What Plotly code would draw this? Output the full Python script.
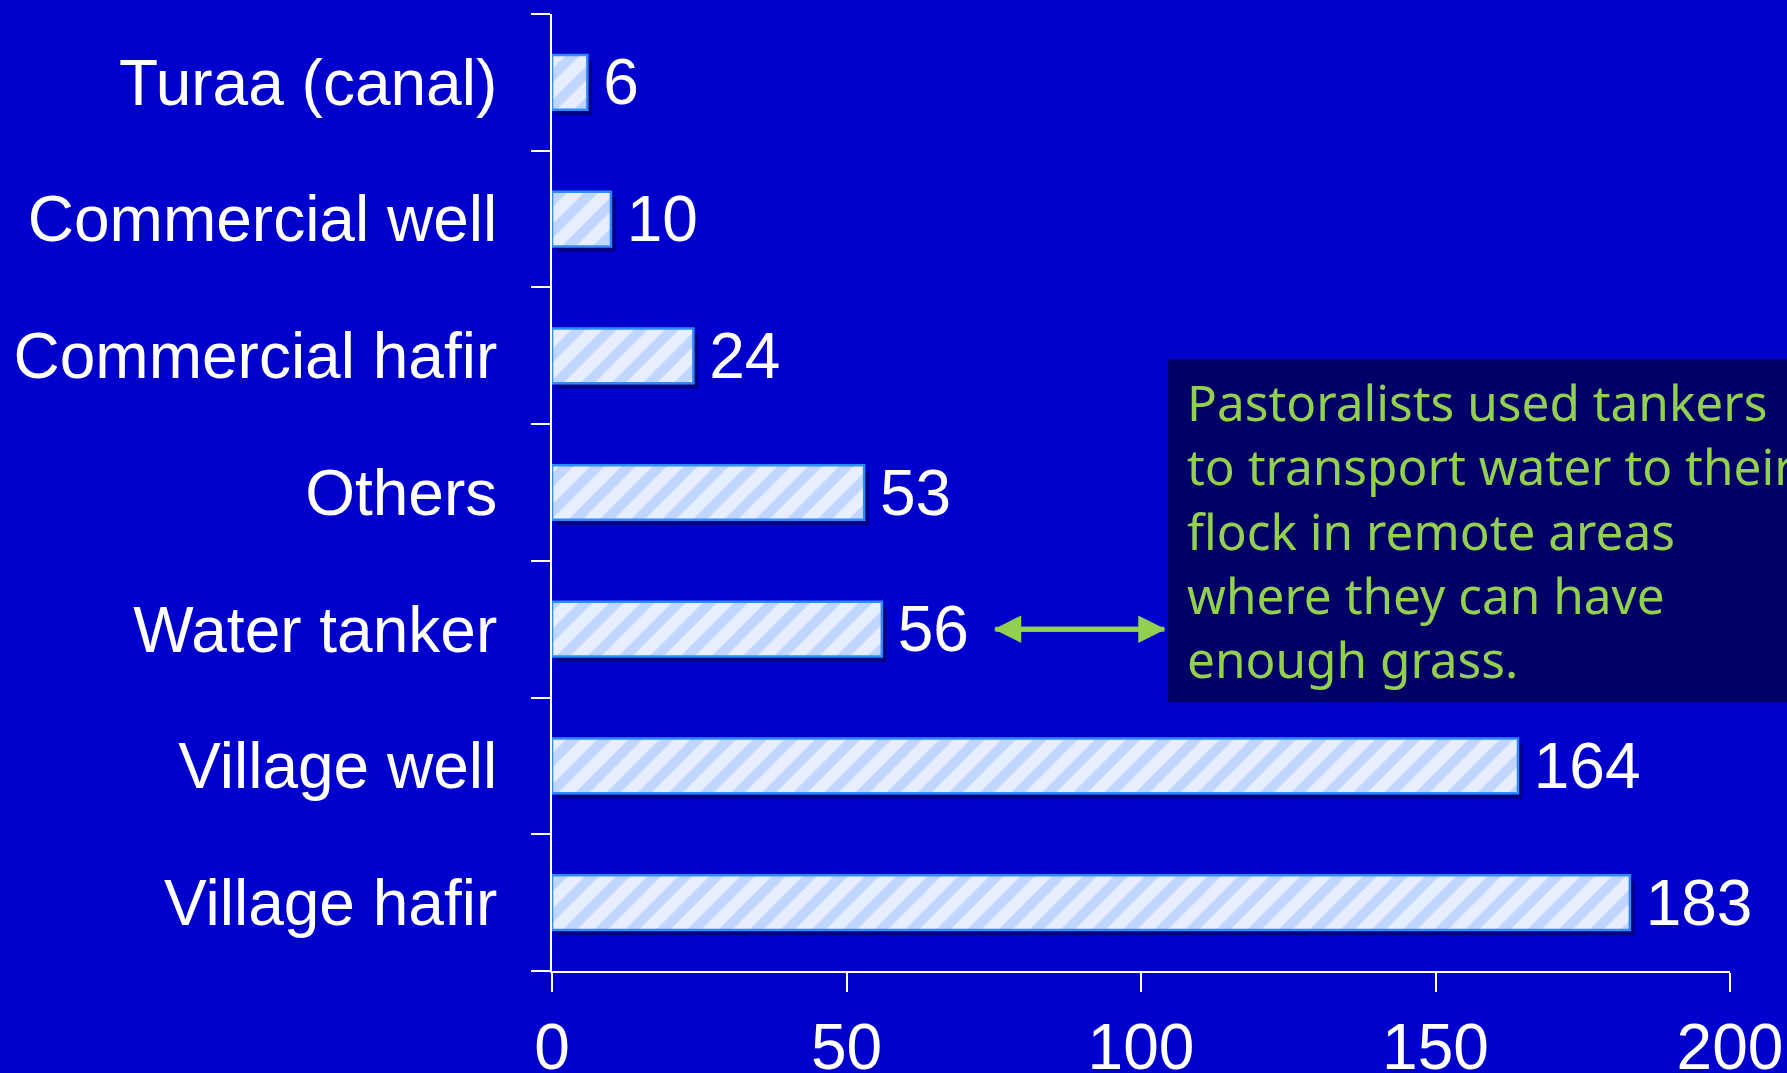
import plotly.graph_objects as go

# Water sources, listed bottom to top as they appear on the axis
categories = ["Village hafir", "Village well", "Water tanker", "Others",
              "Commercial hafir", "Commercial well", "Turaa (canal)"]
counts = [183, 164, 56, 53, 24, 10, 6]

x_ticks = [0, 50, 100, 150, 200]

note_lines = [
    "Pastoralists used tankers",
    "to transport water to their",
    "flock in remote areas",
    "where they can have",
    "enough grass.",
]

BG = "#0000CC"
GREEN = "#92D050"
BOX = "#000066"
LABEL_FONT = "Liberation Sans, Arial, sans-serif"

fig = go.Figure()

# soft drop shadow under each bar
fig.add_trace(go.Bar(
    y=categories, x=counts, orientation="h",
    base=0.8, width=0.4, offset=-0.24,
    marker=dict(color="rgba(0,0,70,0.55)", line=dict(width=0)),
    hoverinfo="skip", showlegend=False,
))

# hatched bars with their value labels
fig.add_trace(go.Bar(
    y=categories, x=counts, orientation="h",
    width=0.4,
    marker=dict(
        color="#E6EEFF",
        line=dict(color="#2E8BFF", width=2.5),
        pattern=dict(shape="/", fgcolor="#9ABDFF", bgcolor="#E6EEFF",
                     size=22, solidity=0.45),
    ),
    texttemplate="\u2009%{x}", textposition="outside", cliponaxis=False,
    constraintext="none",
    textfont=dict(family=LABEL_FONT, size=64, color="white"),
    showlegend=False,
))

# callout box with explanatory text
fig.add_shape(type="rect", xref="paper", yref="paper",
              x0=0.5229, x1=1.1, y0=0.2811, y1=0.6395,
              fillcolor=BOX, line=dict(width=0), layer="above")

fig.add_annotation(
    xref="paper", yref="paper", x=0.537, y=0.4600,
    xanchor="left", yanchor="middle", align="left",
    text="<br>".join(note_lines), showarrow=False,
    font=dict(family="Noto Sans, DejaVu Sans, sans-serif", size=49.5, color=GREEN),
)

# double-headed arrow pointing from the Water tanker bar to the note
for tail, head in ((75, 104.2), (104.2, 75)):
    fig.add_annotation(
        x=head, y="Water tanker", xref="x", yref="y",
        ax=tail, ay=0, axref="x", ayref="pixel",
        showarrow=True, arrowhead=2, arrowsize=1.1, arrowwidth=5,
        arrowcolor=GREEN, text="",
    )

fig.update_layout(
    width=1787, height=1073,
    paper_bgcolor=BG, plot_bgcolor=BG,
    margin=dict(l=552, r=57, t=14, b=102, autoexpand=False),
    barmode="overlay",
    showlegend=False,
    font=dict(family=LABEL_FONT, color="white", size=64),
)

fig.update_xaxes(
    range=[0, 200], tickvals=x_ticks, ticktext=[str(v) for v in x_ticks],
    showgrid=False, zeroline=False,
    showline=True, linecolor="white", linewidth=2,
    ticks="outside", ticklen=19, tickwidth=2, tickcolor="white",
    tickfont=dict(family=LABEL_FONT, size=64, color="white"),
    automargin=False, fixedrange=True,
)

fig.update_yaxes(
    categoryorder="array", categoryarray=categories,
    showgrid=False, zeroline=False,
    showline=True, linecolor="white", linewidth=2,
    ticks="outside", ticklen=19, tickwidth=2, tickcolor="white",
    tickson="boundaries", ticklabelstandoff=40,
    tickfont=dict(family=LABEL_FONT, size=64, color="white"),
    automargin=False, fixedrange=True,
)

fig.write_html("out.html")
